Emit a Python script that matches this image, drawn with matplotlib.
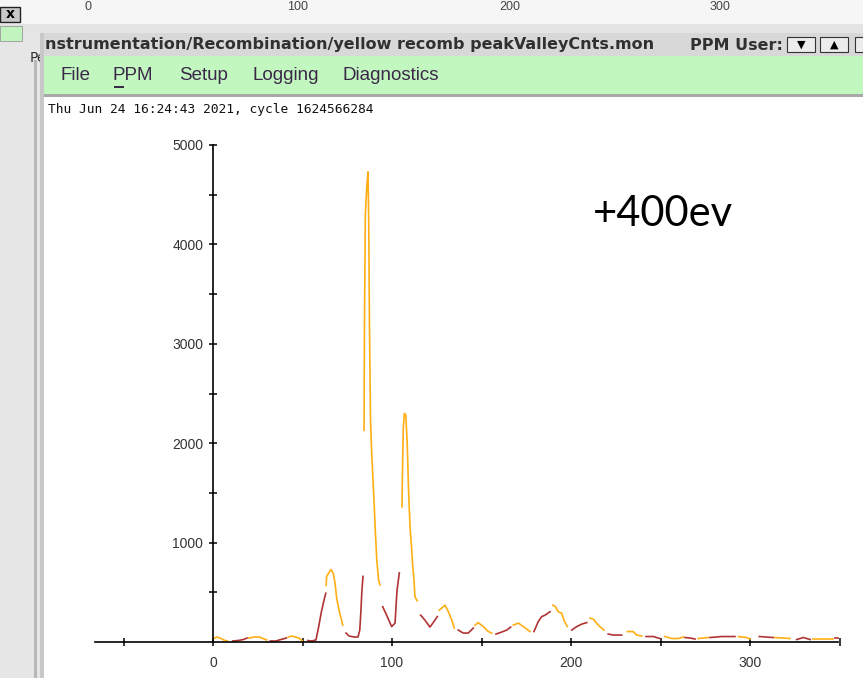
import matplotlib
matplotlib.use("Agg")
import matplotlib.pyplot as plt
from matplotlib.patches import Rectangle

# bunch positions and peak/valley counts, drawn as alternating runs
pos = [0, 2, 4, 6, 8,
       11, 14, 17, 19,
       20, 23, 26, 28, 30,
       32, 35, 38, 41,
       42, 44, 46, 48, 50,
       53, 55, 57.5, 59, 60.5, 62, 63,
       63.2, 63.5, 65, 65.9, 67.2, 68.2, 69.1, 70.6, 72.5,
       74.3, 76, 77.5, 79, 81, 82, 82.6, 83.2, 83.8,
       84.4, 84.6, 85.1, 85.9, 86.6, 87.0, 87.4, 88.0, 88.6, 89.3, 90.0, 90.7, 91.5, 92.5, 93.3,
       94.8, 97, 99.8, 101.7, 102.8, 104.1,
       105.6, 105.8, 106.3, 106.9, 107.7, 108.5, 109.3, 110.1, 110.9, 111.6, 112.3, 112.8, 114.1,
       116, 118.4, 121.2, 124, 125.3,
       126.4, 129.6, 131.5, 133.4, 134.8,
       137, 139.8, 142.6, 145.4,
       146.4, 148.2, 151, 153.8, 155.7,
       158.1, 161.3, 164.1, 166.3,
       167.8, 170.6, 173.4, 177.1,
       179.3, 181.7, 183.6, 185.5, 188.3,
       189.8, 191.1, 192.9, 194.8, 196.1, 197.9,
       200.4, 203.2, 206, 208.8,
       210.6, 212.5, 215.2, 218.4,
       220.8, 223.6, 228.3,
       231.5, 234.8, 236.7, 239.5,
       241.9, 246, 249.7,
       252.5, 256.3, 260, 262.7,
       263.7, 266.5, 269.3,
       271.1, 276.7,
       277.7, 284.2, 291.6,
       293.5, 298.2, 300,
       305.2, 313,
       314, 322.3,
       326.1, 329.8, 333.6,
       335.4, 346.5,
       347.5, 349]
counts = [30, 50, 40, 20, 10,
          10, 15, 25, 40,
          40, 50, 50, 35, 20,
          10, 10, 25, 40,
          50, 60, 50, 40, 10,
          15, 10, 20, 150, 300, 420, 490,
          570, 660, 705, 730, 690, 590, 440, 305, 170,
          90, 60, 55, 50, 50, 120, 300, 520, 660,
          2130, 3140, 4300, 4580, 4730, 4230, 3190, 2230, 1930, 1660, 1400, 1110, 825, 625, 575,
          355, 270, 155, 190, 520, 695,
          1360, 1660, 2150, 2300, 2285, 2000, 1500, 1150, 960, 760, 625, 455, 415,
          270, 220, 150, 220, 255,
          320, 370, 305, 220, 140,
          120, 90, 90, 140,
          170, 195, 155, 105, 90,
          80, 100, 120, 150,
          170, 190, 155, 105,
          105, 205, 255, 270, 305,
          370, 360, 305, 290, 220, 155,
          120, 155, 180, 195,
          240, 230, 170, 120,
          80, 70, 70,
          105, 105, 70, 60,
          55, 55, 35,
          55, 35, 35, 50,
          45, 40, 30,
          35, 45,
          45, 55, 55,
          55, 45, 30,
          55, 45,
          45, 35,
          25, 45, 25,
          30, 30,
          45, 45]
run_len = [5, 4, 5, 4, 5, 7, 9, 9, 15, 6, 13, 5, 5, 4, 5, 4, 4, 5, 6, 4, 4, 3, 4,
           3, 4, 3, 2, 3, 3, 2, 2, 3, 2, 2]

xticks = [0, 100, 200, 300]
yticks = [1000, 2000, 3000, 4000, 5000]
menu_items = ["File", "PPM", "Setup", "Logging", "Diagnostics"]
menu_x = [60, 113, 179, 252, 342]
back_ticks = ["0", "100", "200", "300"]
back_x = [88, 298, 510, 720]

W, H = 863, 678
fig = plt.figure(figsize=(W / 100, H / 100), dpi=100)
fig.patch.set_facecolor("white")


def box(x0, y0, x1, y1, color, z=0, ec="none", lw=0):
    fig.add_artist(Rectangle((x0 / W, 1 - y1 / H), (x1 - x0) / W, (y1 - y0) / H,
                             transform=fig.transFigure, facecolor=color,
                             edgecolor=ec, linewidth=lw, zorder=z))


def label(x, y, s, z=5, **kw):
    fig.text(x / W, 1 - y / H, s, zorder=z, **kw)


# window behind
box(0, 0, W, 30, "#f6f6f6")
box(0, 24, W, 33, "#e4e4e4")
for s, x in zip(back_ticks, back_x):
    label(x, 0.5, s, ha="center", va="top", fontsize=9, color="#444444",
          family="Liberation Sans")
box(0, 33, 40, H, "#e6e6e6")
box(0, 7, 20, 22, "#c8c8c8", z=1, ec="#222222", lw=1.0)
label(10, 14.5, "x", ha="center", va="center", fontsize=10, weight="bold", z=2)
box(0, 26, 22, 41, "#c2f4c0", z=1, ec="#999999", lw=0.6)
label(30, 58, "Pe", ha="left", va="center", fontsize=10, color="#333333", z=1)
box(34, 60, 37, H, "#b8b8b8", z=1)

# main window
box(40, 33, W, H, "white", z=3)
box(40, 33, 44, H, "#c8c8c8", z=3)
box(44, 33, W, 56, "#d8d8d8", z=3)
label(45, 45, "nstrumentation/Recombination/yellow recomb peakValleyCnts.mon",
      ha="left", va="center", fontsize=11.5, weight="bold", color="#303030",
      family="Liberation Sans Narrow")
label(690, 45, "PPM User:", ha="left", va="center", fontsize=11.5, weight="bold",
      color="#303030", family="Liberation Sans Narrow")
for bx, glyph in [(787, "▼"), (820, "▲"), (855, "")]:
    box(bx, 37, bx + 28, 52, "#ececec", z=4, ec="#333333", lw=0.8)
    label(bx + 14, 44.5, glyph, ha="center", va="center", fontsize=8, z=5)
box(44, 56, W, 94, "#c2f8c0", z=3)
box(44, 94, W, 97, "#a8a8a8", z=3)
for s, x in zip(menu_items, menu_x):
    label(x, 75, s, ha="left", va="center", fontsize=13.5, color="#3a2848",
          family="Liberation Sans")
box(114, 86, 124, 87.5, "#3a2848", z=4)
label(48, 109, "Thu Jun 24 16:24:43 2021, cycle 1624566284", ha="left",
      va="center", fontsize=9.3, family="DejaVu Sans Mono", color="#111111")

# plot
x_lo, x_hi = -66, 350
y_lo, y_hi = -60, 5000
px0 = 213 + x_lo * 1.79
px1 = 213 + x_hi * 1.79
py0 = 642 - y_lo * 0.0994
py1 = 642 - y_hi * 0.0994
ax = fig.add_axes([px0 / W, 1 - py0 / H, (px1 - px0) / W, (py0 - py1) / H], zorder=6)
ax.set_facecolor("none")
ax.set_xlim(x_lo, x_hi)
ax.set_ylim(y_lo, y_hi)

start = 0
for i, n in enumerate(run_len):
    c = "#ffae14" if i % 2 == 0 else "#b03434"
    ax.plot(pos[start:start + n], counts[start:start + n], color=c, lw=1.2,
            clip_on=False)
    start += n

for side in ["top", "right"]:
    ax.spines[side].set_visible(False)
ax.spines["left"].set_position(("data", 0))
ax.spines["bottom"].set_position(("data", 0))
ax.spines["left"].set_bounds(0, 5000)
ax.spines["bottom"].set_bounds(x_lo, 349)
for side in ["left", "bottom"]:
    ax.spines[side].set_linewidth(1.2)
ax.set_xticks(xticks)
ax.set_xticks([-50, 50, 150, 250, 350], minor=True)
ax.set_yticks(yticks)
ax.set_yticks([500, 1500, 2500, 3500, 4500], minor=True)
ax.tick_params(which="both", direction="inout", length=6, width=1.1, color="black")
ax.tick_params(axis="x", pad=7, labelsize=10, labelcolor="#333333")
ax.tick_params(axis="y", pad=4, labelsize=10, labelcolor="#333333")
for t in ax.get_xticklabels() + ax.get_yticklabels():
    t.set_family("Liberation Sans")

label(593, 214, "+400ev", ha="left", va="center", fontsize=30, family="Lato",
      color="black", z=8)

fig.savefig("out.png", dpi=100)
